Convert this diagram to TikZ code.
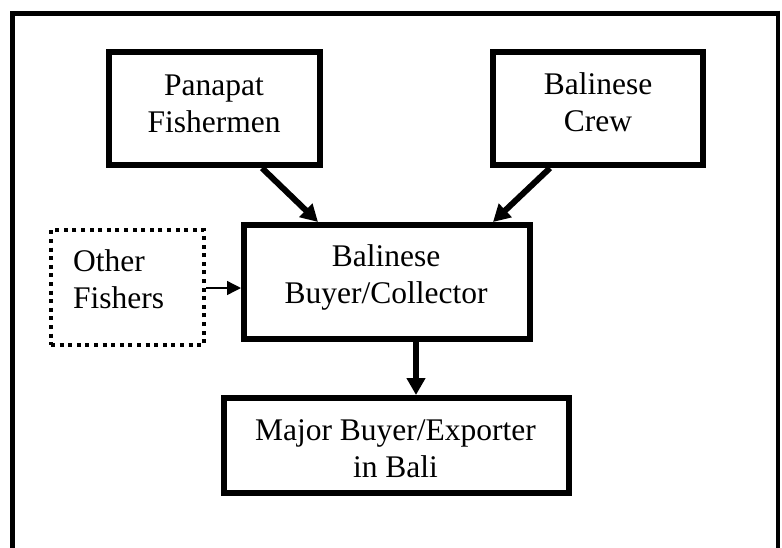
\documentclass[tikz,border=0pt]{standalone}
\usepackage{fontspec}
\setmainfont{Liberation Serif}
\usetikzlibrary{arrows.meta,calc}
\begin{document}
\begin{tikzpicture}[x=1pt,y=-1pt,
  box/.style={draw,line width=6pt,rectangle,inner sep=0pt},
  dotbox/.style={draw,line width=4pt,rectangle,inner sep=0pt,dash pattern=on 4pt off 4.6pt},
  lbl/.style={inner sep=0pt,font=\fontsize{31.5}{37}\selectfont},
  flow/.style={line width=6pt,-{Triangle[length=17pt,width=18pt]}},
  thin flow/.style={line width=1.4pt,-{Triangle[length=14pt,width=14pt]}}]
\useasboundingbox (0,0) rectangle (782,547);
% outer frame, open at the bottom
\draw[line width=5pt] (12.5,560) -- (12.5,13) -- (778,13);
\draw[line width=3.5pt] (778,10.5) -- (778,560);
% boxes
\node[box,minimum width=211pt,minimum height=113pt] (pan) at (214.5,108.5) {};
\node[box,minimum width=210pt,minimum height=113pt] (crew) at (598,108.5) {};
\node[box,minimum width=286pt,minimum height=114pt] (col) at (387,282) {};
\node[dotbox,minimum width=153pt,minimum height=115pt] (oth) at (127.5,287.5) {};
\node[box,minimum width=345pt,minimum height=95pt] (exp) at (396.5,445.5) {};
% texts (base anchor sits on the last line)
\node[lbl,align=center,anchor=base] (panT) at (214,132) {Panapat\\Fishermen};
\node[lbl,align=center,anchor=base] (crewT) at (598,131) {Balinese\\Crew};
\node[lbl,align=center,anchor=base] (colT) at (386,303) {Balinese\\Buyer/Collector};
\node[lbl,align=left,anchor=base west] (othT) at (73,308) {Other\\Fishers};
\node[lbl,align=center,anchor=base] (expT) at (395.5,477) {Major Buyer/Exporter\\in Bali};
% connectors
\draw[flow] ($(pan.south)+(47.5,0)$) -- ($(col.north)+(-69,0)$);
\draw[flow] ($(crew.south)+(-48,0)$) -- ($(col.north)+(106,0)$);
\draw[flow] ($(col.south)+(29,0)$) -- ($(exp.north)+(19.5,0)$);
\draw[thin flow] (oth.east |- 0,288) -- (col.west |- 0,288);
\end{tikzpicture}
\end{document}
